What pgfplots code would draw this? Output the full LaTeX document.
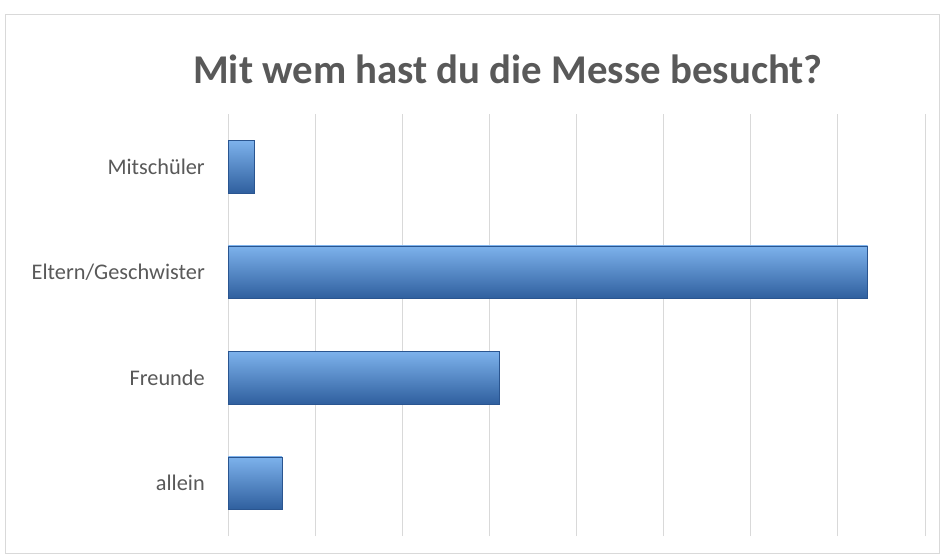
\documentclass[border=0pt]{standalone}
\usepackage{fontspec}
\setmainfont{Carlito}
\usepackage{pgfplots}
\pgfplotsset{compat=1.18}
\definecolor{txtgray}{HTML}{595959}
\definecolor{gridgray}{HTML}{D9D9D9}
\definecolor{barlight}{HTML}{7DB2EC}
\definecolor{barmid}{HTML}{3F79C4}
\definecolor{bardark}{HTML}{2F5F9E}
\definecolor{baredge}{HTML}{2A5590}
\tikzset{barsty/.style={draw=baredge, line width=0.6bp, top color=barlight, middle color=barmid, bottom color=bardark}}
\begin{document}
\begin{tikzpicture}
\path[use as bounding box, fill=white] (0,0) rectangle (944bp,-557bp);
\draw[gridgray, line width=1bp] (5bp,-14bp) rectangle (939bp,-553bp);
\node[font=\bfseries\fontsize{41}{48}\selectfont, text=txtgray] at (508bp,-69bp) {Mit wem hast du die Messe besucht?};
\begin{axis}[
  at={(228bp,-536bp)}, anchor=south west,
  scale only axis, width=697bp, height=422bp,
  xmin=0, xmax=8, ymin=-0.5, ymax=3.5,
  xbar, bar width=0.5, bar shift=0pt,
  xtick={0,1,...,8}, xticklabels={},
  xmajorgrids, grid style={gridgray, line width=1bp},
  ytick={0,1,2,3},
  yticklabels={allein,Freunde,Eltern/Geschwister,Mitschüler},
  yticklabel style={font=\fontsize{22.4}{26}\selectfont, text=txtgray, inner xsep=0pt, xshift=-23bp},
  major tick length=0pt,
  axis line style={draw=none},
  clip=false,
]
\addplot[barsty] coordinates {(0.62,0)};
\addplot[barsty] coordinates {(3.11,1)};
\addplot[barsty] coordinates {(7.34,2)};
\addplot[barsty] coordinates {(0.30,3)};
\end{axis}
\end{tikzpicture}
\end{document}
